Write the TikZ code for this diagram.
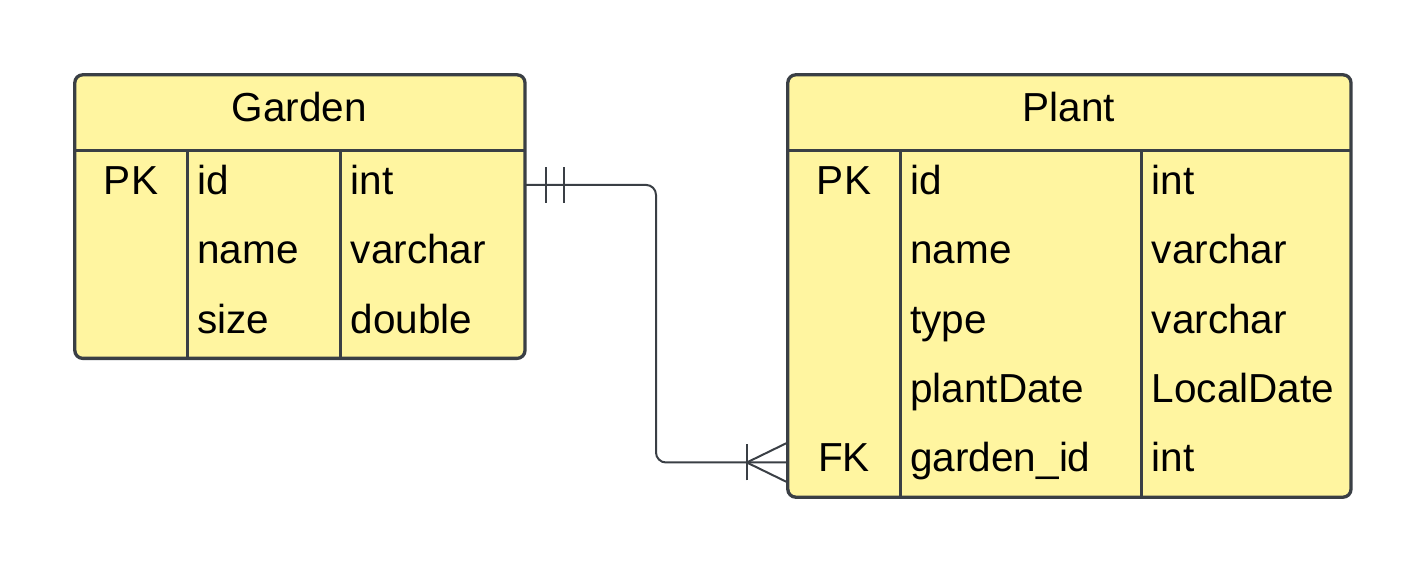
\documentclass[tikz,border=0pt]{standalone}
\usepackage{fontspec}
\setmainfont{Liberation Sans}
\usepackage{tikz}
\usetikzlibrary{positioning}
\usetikzlibrary{backgrounds}
\definecolor{tabfill}{RGB}{255,245,160}
\definecolor{tabline}{RGB}{58,63,69}
\tikzset{x=1pt, y=1pt, node distance=0pt, font=\fontsize{40.5}{40.5}\selectfont}
\tikzstyle{tabtitle} = [rectangle, minimum height=75pt, inner sep=0pt, text height=27pt, text depth=8pt]
\tikzstyle{keycell} = [rectangle, minimum height=69pt, minimum width=112pt, inner sep=0pt, text height=27pt, text depth=8pt]
\tikzstyle{fieldcell} = [rectangle, minimum height=69pt, inner xsep=10pt, inner ysep=0pt, align=left, text height=27pt, text depth=8pt]
\tikzstyle{gname} = [fieldcell, text width=133pt]
\tikzstyle{gtype} = [fieldcell, text width=164pt]
\tikzstyle{pname} = [fieldcell, text width=221pt]
\tikzstyle{ptype} = [fieldcell, text width=189pt]
\tikzstyle{tabframe} = [draw=tabline, line width=3.3pt]
\tikzstyle{rel} = [draw=tabline, line width=2pt]

\begin{document}
\begin{tikzpicture}
    \useasboundingbox (0,0) rectangle (1425,572);
    \node [tabtitle, minimum width=449pt] (garden) at (299.5,459.5) {Garden};
    \node [keycell, below right=0pt and 0pt of garden.south west] (g_k1) {PK};
    \node [gname, right=0pt of g_k1] (g_n1) {id};
    \node [gtype, right=0pt of g_n1] (g_t1) {int};
    \node [keycell, below=0pt of g_k1] (g_k2) {};
    \node [gname, right=0pt of g_k2] (g_n2) {name};
    \node [gtype, right=0pt of g_n2] (g_t2) {varchar};
    \node [keycell, below=0pt of g_k2] (g_k3) {};
    \node [gname, right=0pt of g_k3] (g_n3) {size};
    \node [gtype, right=0pt of g_n3] (g_t3) {double};

    \node [tabtitle, minimum width=562pt] (plant) at (1069,459.5) {Plant};
    \node [keycell, below right=0pt and 0pt of plant.south west] (p_k1) {PK};
    \node [pname, right=0pt of p_k1] (p_n1) {id};
    \node [ptype, right=0pt of p_n1] (p_t1) {int};
    \node [keycell, below=0pt of p_k1] (p_k2) {};
    \node [pname, right=0pt of p_k2] (p_n2) {name};
    \node [ptype, right=0pt of p_n2] (p_t2) {varchar};
    \node [keycell, below=0pt of p_k2] (p_k3) {};
    \node [pname, right=0pt of p_k3] (p_n3) {type};
    \node [ptype, right=0pt of p_n3] (p_t3) {varchar};
    \node [keycell, below=0pt of p_k3] (p_k4) {};
    \node [pname, right=0pt of p_k4] (p_n4) {plantDate};
    \node [ptype, right=0pt of p_n4] (p_t4) {LocalDate};
    \node [keycell, below=0pt of p_k4] (p_k5) {FK};
    \node [pname, right=0pt of p_k5] (p_n5) {garden\_id};
    \node [ptype, right=0pt of p_n5] (p_t5) {int};

    \begin{scope}[on background layer]
        \draw [tabframe, fill=tabfill, rounded corners=8pt] (garden.north west) rectangle (g_t3.south east);
        \draw [tabframe, fill=tabfill, rounded corners=8pt] (plant.north west) rectangle (p_t5.south east);
    \end{scope}
    \draw [tabframe] (garden.south west) -- (garden.south east);
    \draw [tabframe] (g_k1.north east) -- (g_k3.south east);
    \draw [tabframe] (g_n1.north east) -- (g_n3.south east);
    \draw [tabframe] (plant.south west) -- (plant.south east);
    \draw [tabframe] (p_k1.north east) -- (p_k5.south east);
    \draw [tabframe] (p_n1.north east) -- (p_n5.south east);

    \draw [rel, rounded corners=10pt] (g_t1.east) -- ++(131,0) |- (p_k5.west);
    \draw [rel] ([xshift=21pt]g_t1.east) ++(0,-18) -- ++(0,36);
    \draw [rel] ([xshift=39pt]g_t1.east) ++(0,-18) -- ++(0,36);
    \draw [rel] ([xshift=-41pt]p_k5.west) ++(0,-18) -- ++(0,36);
    \draw [rel] ([yshift=20pt]p_k5.west) -- ([xshift=-41pt]p_k5.west) -- ([yshift=-20pt]p_k5.west);
\end{tikzpicture}
\end{document}
